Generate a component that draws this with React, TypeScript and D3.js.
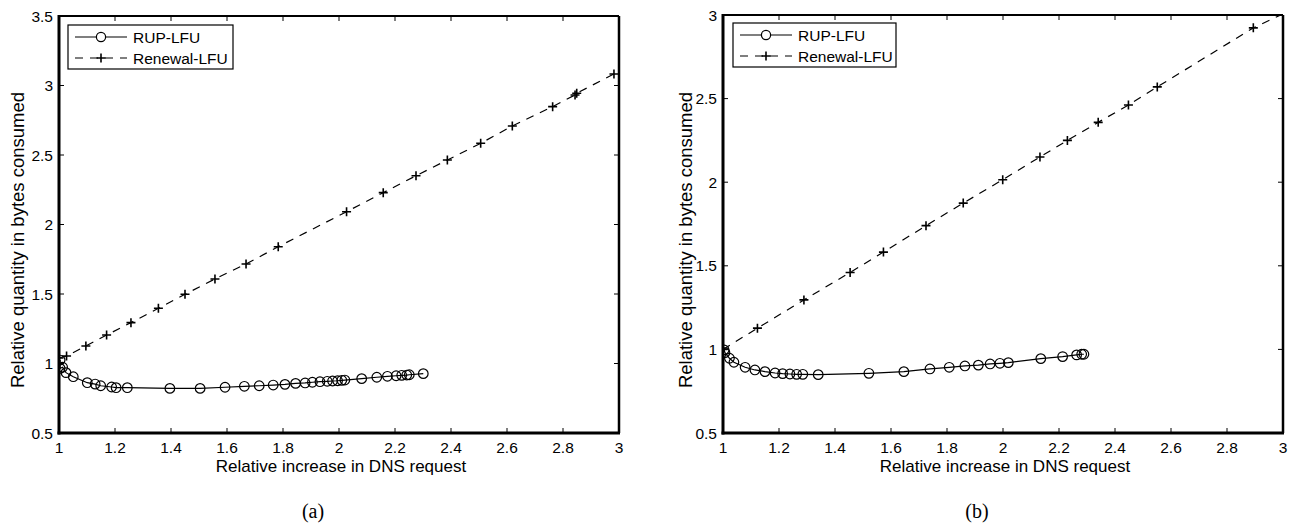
import React from "react";
import * as d3 from "d3";

// ---------- data ----------
const seriesNames = ["RUP-LFU", "Renewal-LFU"];
const xTicks = [1, 1.2, 1.4, 1.6, 1.8, 2, 2.2, 2.4, 2.6, 2.8, 3];
const xTickLabels = ["1", "1.2", "1.4", "1.6", "1.8", "2", "2.2", "2.4", "2.6", "2.8", "3"];
const yTicksA = [0.5, 1, 1.5, 2, 2.5, 3, 3.5];
const yTickLabelsA = ["0.5", "1", "1.5", "2", "2.5", "3", "3.5"];
const yTicksB = [0.5, 1, 1.5, 2, 2.5, 3];
const yTickLabelsB = ["0.5", "1", "1.5", "2", "2.5", "3"];
const xLabel = "Relative increase in DNS request";
const yLabel = "Relative quantity in bytes consumed";
const captions = ["(a)", "(b)"];

// panel (a)
const rupAX = [1.004, 1.004, 1.013, 1.025, 1.051, 1.101, 1.129, 1.149, 1.188, 1.204, 1.244, 1.396, 1.504, 1.593, 1.662, 1.715, 1.765, 1.807, 1.845, 1.879, 1.905, 1.932, 1.958, 1.977, 1.995, 2.01, 2.021, 2.081, 2.135, 2.173, 2.204, 2.224, 2.242, 2.251, 2.301];
const rupAY = [1.025, 0.965, 0.973, 0.934, 0.905, 0.862, 0.852, 0.84, 0.831, 0.826, 0.826, 0.821, 0.821, 0.829, 0.836, 0.84, 0.845, 0.85, 0.857, 0.86, 0.865, 0.869, 0.872, 0.874, 0.876, 0.879, 0.881, 0.891, 0.901, 0.908, 0.912, 0.915, 0.917, 0.919, 0.927];
const renAX = [1.0, 1.027, 1.096, 1.17, 1.257, 1.355, 1.45, 1.557, 1.668, 1.783, 2.027, 2.158, 2.275, 2.387, 2.506, 2.619, 2.763, 2.843, 2.849, 2.982];
const renAY = [1.04, 1.054, 1.126, 1.205, 1.294, 1.397, 1.498, 1.608, 1.716, 1.84, 2.092, 2.229, 2.351, 2.464, 2.584, 2.709, 2.848, 2.932, 2.944, 3.083];

// panel (b)
const rupBX = [1.004, 1.007, 1.023, 1.039, 1.079, 1.114, 1.15, 1.186, 1.213, 1.239, 1.263, 1.285, 1.34, 1.521, 1.646, 1.739, 1.808, 1.864, 1.912, 1.954, 1.989, 2.019, 2.135, 2.213, 2.263, 2.281, 2.289];
const rupBY = [0.997, 0.981, 0.947, 0.923, 0.893, 0.877, 0.867, 0.859, 0.855, 0.853, 0.851, 0.851, 0.849, 0.857, 0.867, 0.883, 0.893, 0.901, 0.906, 0.913, 0.917, 0.921, 0.945, 0.957, 0.967, 0.971, 0.971];
const renBX = [1.0, 1.123, 1.289, 1.454, 1.573, 1.725, 1.858, 1.999, 2.132, 2.23, 2.34, 2.448, 2.551, 2.894, 3.03];
const renBY = [1.0, 1.127, 1.296, 1.46, 1.582, 1.74, 1.875, 2.015, 2.151, 2.25, 2.358, 2.462, 2.57, 2.923, 3.03];

const FONT = "'Liberation Sans', Arial, Helvetica, sans-serif";

type Pt = [number, number];
const zip = (xs: number[], ys: number[]): Pt[] => xs.map((x, i) => [x, ys[i]]);

interface PanelProps {
  id: string;
  left: number; right: number; top: number; bottom: number;
  yDomain: [number, number];
  yTicks: number[]; yTickLabels: string[];
  rup: Pt[]; ren: Pt[];
  legendX: number; legendY: number; legendW: number;
  yLabelX: number;
  caption: string; captionX: number;
}

function Panel(p: PanelProps) {
  const x = d3.scaleLinear().domain([1, 3]).range([p.left, p.right]);
  const y = d3.scaleLinear().domain(p.yDomain).range([p.bottom, p.top]);
  const line = d3.line<Pt>().x(d => x(d[0])).y(d => y(d[1]));
  const tl = 5;
  const clipId = "clip-" + p.id;
  const lh = 21;
  return (
    <g>
      <defs>
        <clipPath id={clipId}>
          <rect x={p.left} y={p.top} width={p.right - p.left} height={p.bottom - p.top} />
        </clipPath>
      </defs>
      <g clipPath={`url(#${clipId})`}>
        <path d={line(p.ren) || ""} fill="none" stroke="#000" strokeWidth={1.2} strokeDasharray="8,7" />
        {p.ren.map((d, i) => (
          <path key={"r" + i} d={`M${x(d[0]) - 4.5},${y(d[1])}H${x(d[0]) + 4.5}M${x(d[0])},${y(d[1]) - 4.5}V${y(d[1]) + 4.5}`} stroke="#000" strokeWidth={1.6} />
        ))}
        <path d={line(p.rup) || ""} fill="none" stroke="#000" strokeWidth={1.2} />
        {p.rup.map((d, i) => (
          <circle key={"c" + i} cx={x(d[0])} cy={y(d[1])} r={4.8} fill="none" stroke="#000" strokeWidth={1.2} />
        ))}
      </g>
      {/* ticks */}
      {xTicks.map((t, i) => (
        <g key={"xt" + i}>
          <line x1={x(t)} x2={x(t)} y1={p.bottom} y2={p.bottom - tl} stroke="#000" strokeWidth={1} />
          <line x1={x(t)} x2={x(t)} y1={p.top} y2={p.top + tl} stroke="#000" strokeWidth={1} />
          <text x={x(t)} y={p.bottom + 20} textAnchor="middle" fontFamily={FONT} fontSize={15.5}>{xTickLabels[i]}</text>
        </g>
      ))}
      {p.yTicks.map((t, i) => (
        <g key={"yt" + i}>
          <line x1={p.left} x2={p.left + tl} y1={y(t)} y2={y(t)} stroke="#000" strokeWidth={1} />
          <line x1={p.right} x2={p.right - tl} y1={y(t)} y2={y(t)} stroke="#000" strokeWidth={1} />
          <text x={p.left - 6} y={y(t) + 5.5} textAnchor="end" fontFamily={FONT} fontSize={15.5}>{p.yTickLabels[i]}</text>
        </g>
      ))}
      {/* frame */}
      <line x1={p.left} x2={p.right} y1={p.top} y2={p.top} stroke="#000" strokeWidth={2} />
      <line x1={p.right} x2={p.right} y1={p.top} y2={p.bottom} stroke="#000" strokeWidth={2.5} />
      <line x1={p.left} x2={p.left} y1={p.top - 1} y2={p.bottom + 1.5} stroke="#000" strokeWidth={3} />
      <line x1={p.left - 1.5} x2={p.right + 1} y1={p.bottom} y2={p.bottom} stroke="#000" strokeWidth={3} />
      {/* labels */}
      <text x={(p.left + p.right) / 2 + 2} y={p.bottom + 39} textAnchor="middle" fontFamily={FONT} fontSize={17}>{xLabel}</text>
      <text transform={`translate(${p.yLabelX},240) rotate(-90)`} textAnchor="middle" fontFamily={FONT} fontSize={18.5}>{yLabel}</text>
      <text x={p.captionX} y={518} textAnchor="middle" fontFamily="'Liberation Serif', 'Times New Roman', serif" fontSize={20}>{p.caption}</text>
      {/* legend */}
      <rect x={p.legendX} y={p.legendY} width={p.legendW} height={44} fill="#fff" stroke="#000" strokeWidth={1.2} />
      <line x1={p.legendX + 7} x2={p.legendX + 59} y1={p.legendY + 12} y2={p.legendY + 12} stroke="#000" strokeWidth={1.2} />
      <circle cx={p.legendX + 33} cy={p.legendY + 12} r={4.6} fill="#fff" stroke="#000" strokeWidth={1.2} />
      <text x={p.legendX + 65} y={p.legendY + 17.5} fontFamily={FONT} fontSize={15.5}>{seriesNames[0]}</text>
      <line x1={p.legendX + 7} x2={p.legendX + 59} y1={p.legendY + 12 + lh} y2={p.legendY + 12 + lh} stroke="#000" strokeWidth={1.2} strokeDasharray="8,7" />
      <path d={`M${p.legendX + 28.5},${p.legendY + 12 + lh}H${p.legendX + 37.5}M${p.legendX + 33},${p.legendY + 7.5 + lh}V${p.legendY + 16.5 + lh}`} stroke="#000" strokeWidth={1.6} />
      <text x={p.legendX + 65} y={p.legendY + 17.5 + lh} fontFamily={FONT} fontSize={15.5}>{seriesNames[1]}</text>
    </g>
  );
}

export default function App() {
  return (
    <svg width={1297} height={526} style={{ position: "absolute", left: 0, top: 0, background: "#fff" }}>
      <rect width={1297} height={526} fill="#fff" />
      <Panel id="a" left={59} right={619} top={16} bottom={433}
        yDomain={[0.5, 3.5]} yTicks={yTicksA} yTickLabels={yTickLabelsA}
        rup={zip(rupAX, rupAY)} ren={zip(renAX, renAY)}
        legendX={68} legendY={25} legendW={165}
        yLabelX={24} caption={captions[0]} captionX={313} />
      <Panel id="b" left={723} right={1283} top={15} bottom={433}
        yDomain={[0.5, 3]} yTicks={yTicksB} yTickLabels={yTickLabelsB}
        rup={zip(rupBX, rupBY)} ren={zip(renBX, renBY)}
        legendX={733} legendY={23} legendW={163}
        yLabelX={692} caption={captions[1]} captionX={977} />
    </svg>
  );
}
